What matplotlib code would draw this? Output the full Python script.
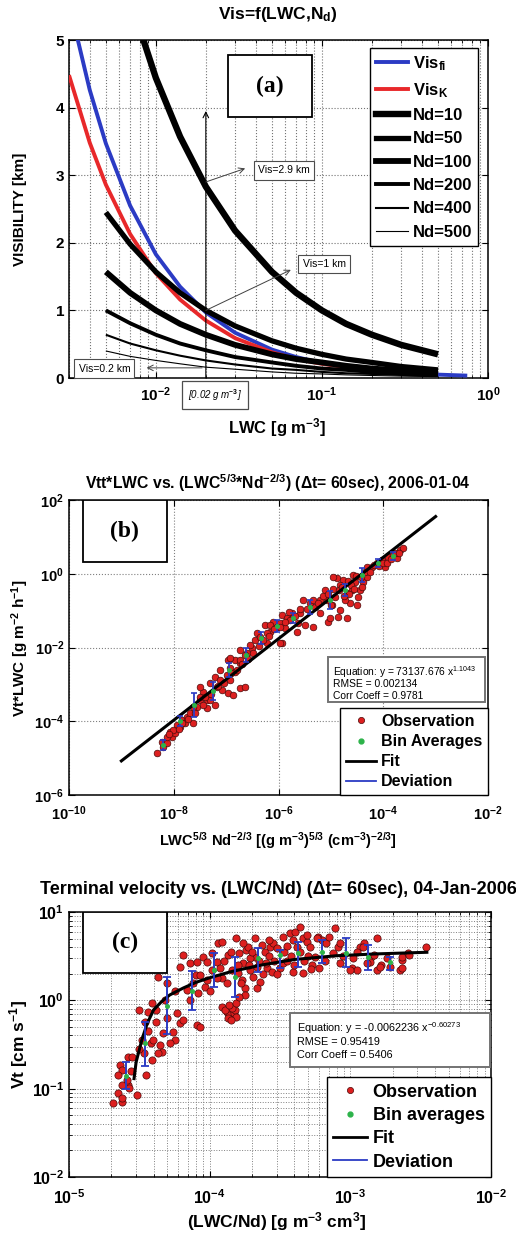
import matplotlib
matplotlib.use("Agg")
import matplotlib.pyplot as plt
import numpy as np
from matplotlib.patches import Rectangle
from matplotlib.lines import Line2D
from matplotlib.ticker import FixedLocator, FuncFormatter, NullFormatter, NullLocator, LogLocator

plt.rcParams['font.family'] = ['Liberation Sans', 'DejaVu Sans']
plt.rcParams['font.weight'] = 'bold'
plt.rcParams['mathtext.fontset'] = 'custom'
plt.rcParams['mathtext.rm'] = 'Liberation Sans:bold'
plt.rcParams['mathtext.it'] = 'Liberation Sans:bold:italic'
plt.rcParams['mathtext.bf'] = 'Liberation Sans:bold'
plt.rcParams['axes.linewidth'] = 1.1

# ---------------- (a) visibility curves ----------------
lwc_nd = [0.005, 0.007, 0.01, 0.014, 0.02, 0.03, 0.05, 0.07, 0.1, 0.14, 0.2, 0.3, 0.5]
vis_nd10 = [6.95, 5.60, 4.44, 3.57, 2.83, 2.18, 1.57, 1.26, 1.00, 0.80, 0.64, 0.49, 0.35]
vis_nd50 = [2.45, 1.98, 1.57, 1.26, 1.00, 0.77, 0.55, 0.44, 0.35, 0.28, 0.23, 0.17, 0.12]
vis_nd100 = [1.57, 1.26, 1.00, 0.80, 0.64, 0.49, 0.35, 0.28, 0.23, 0.18, 0.14, 0.11, 0.08]
vis_nd200 = [1.00, 0.81, 0.64, 0.51, 0.41, 0.31, 0.23, 0.18, 0.14, 0.12, 0.09, 0.07, 0.05]
vis_nd400 = [0.64, 0.51, 0.41, 0.33, 0.26, 0.20, 0.14, 0.12, 0.09, 0.07, 0.06, 0.045, 0.032]
vis_nd500 = [0.40, 0.32, 0.26, 0.21, 0.16, 0.13, 0.09, 0.07, 0.06, 0.046, 0.037, 0.028, 0.020]

lwc_k = [0.003, 0.004, 0.005, 0.007, 0.01, 0.014, 0.02, 0.03, 0.05, 0.07, 0.1, 0.2, 0.3, 0.5]
vis_k = [4.48, 3.48, 2.86, 2.13, 1.55, 1.16, 0.85, 0.59, 0.38, 0.28, 0.21, 0.11, 0.08, 0.05]
lwc_fi = [0.003, 0.004, 0.005, 0.007, 0.01, 0.014, 0.02, 0.03, 0.05, 0.07, 0.1, 0.2, 0.3, 0.5, 0.75]
vis_fi = [5.55, 4.26, 3.47, 2.55, 1.83, 1.35, 0.97, 0.67, 0.42, 0.31, 0.22, 0.12, 0.08, 0.05, 0.035]

nd_labels = ['Nd=10', 'Nd=50', 'Nd=100', 'Nd=200', 'Nd=400', 'Nd=500']
nd_widths = [4.6, 3.8, 4.2, 2.8, 1.5, 0.8]

# ---------------- (b) Vt*LWC vs LWC^5/3 Nd^-2/3 (log10 values) ----------------
b_obs_logx = [-8.32, -8.21, -8.23, -8.13, -8.03, -8.07, -7.98, -7.94, -7.84, -7.75,
              -7.69, -7.63, -7.79, -7.56, -7.50, -7.37, -7.21, -7.37, -7.44, -7.50,
              -7.31, -7.21, -7.12, -6.97, -6.87, -6.74, -6.64, -6.99, -6.93, -6.97,
              -6.83, -6.74, -6.60, -6.51, -6.45, -6.41, -6.36, -6.26, -6.22, -6.16,
              -6.11, -6.03, -5.94, -5.94, -5.84, -5.74, -5.65, -5.63, -5.97, -5.73,
              -5.53, -5.40, -5.34, -5.50, -5.21, -5.08, -5.06, -5.02, -4.92, -4.83,
              -4.87, -4.89, -4.77, -4.70, -4.64, -4.73, -4.58, -4.54, -4.45, -4.49,
              -4.39, -4.31, -4.31, -4.22, -4.12, -4.03, -3.97, -3.91, -3.82, -3.74,
              -3.68, -3.63, -4.96, -5.78, -5.59, -4.70, -6.74, -6.93, -7.12, -6.93,
              -7.18, -7.50, -7.63, -8.02, -8.13, -5.97, -6.74, -6.22, -5.12, -4.98,
              -4.60, -4.50, -4.83, -5.21, -5.31, -5.88, -6.16, -6.55, -6.64, -6.83,
              -7.08, -7.31, -7.88,
              -8.10, -7.90, -7.85, -7.72, -7.60, -7.45, -7.40, -7.28, -7.15, -7.05,
              -6.90, -6.80, -6.70, -6.58, -6.48, -6.38, -6.30, -6.18, -6.08, -5.98,
              -5.88, -5.80, -5.68, -5.58, -5.45, -5.35, -5.25, -5.15, -5.05, -4.95,
              -4.85, -4.78, -4.68, -4.62, -4.52, -4.42, -4.35, -4.25, -4.18, -4.08,
              -4.00, -3.92, -3.86, -3.78, -3.70, -4.65, -4.75, -4.55, -4.40, -5.00]
b_obs_logy = [-4.86, -4.69, -4.56, -4.59, -4.42, -4.29, -4.31, -4.10, -3.96, -3.88,
              -3.77, -4.04, -4.04, -3.61, -3.42, -3.64, -3.56, -3.42, -3.20, -3.07,
              -2.96, -2.80, -2.88, -3.23, -3.29, -3.10, -3.07, -2.74, -2.55, -2.34,
              -2.34, -2.42, -2.15, -2.01, -1.79, -1.60, -1.71, -1.39, -1.88, -1.58,
              -1.31, -1.44, -1.88, -1.12, -1.20, -1.06, -1.58, -1.33, -1.33, -1.17,
              -0.71, -0.79, -1.44, -1.39, -1.06, -0.71, -1.31, -1.20, -0.63, -0.98,
              -1.17, -0.11, -0.17, -0.52, -0.79, -0.71, -0.03, -0.22, -0.44, -0.63,
              -0.22, -0.09, 0.18, 0.18, 0.29, 0.37, 0.18, 0.46, 0.51, 0.43,
              0.65, 0.70, -0.09, -1.25, -1.06, -1.20, -2.07, -2.28, -2.61, -2.88,
              -3.07, -3.34, -3.61, -4.23, -4.42, -1.88, -2.34, -1.60, -0.44, -0.85,
              -0.44, -0.85, -0.30, -0.71, -0.90, -1.47, -1.39, -1.93, -2.20, -2.66,
              -3.15, -3.42, -4.15,
              -4.35, -4.20, -4.05, -3.95, -3.78, -3.55, -3.35, -3.25, -3.05, -2.95,
              -2.70, -2.60, -2.45, -2.30, -2.15, -1.95, -1.80, -1.70, -1.50, -1.45,
              -1.30, -1.05, -1.15, -0.95, -0.95, -0.70, -0.80, -0.60, -0.55, -0.40,
              -0.45, -0.35, -0.20, -0.30, -0.05, -0.10, 0.05, 0.05, 0.25, 0.20,
              0.30, 0.30, 0.40, 0.55, 0.55, -0.55, -0.60, -0.40, -0.35, -0.85]
b_bin_logx = [-8.21, -7.88, -7.62, -7.25, -6.95, -6.62, -6.34, -6.03, -5.73, -5.40,
              -5.02, -4.73, -4.41, -4.10, -3.82]
b_bin_logy = [-4.64, -3.99, -3.56, -3.18, -2.61, -2.20, -1.74, -1.42, -1.20, -0.90,
              -0.71, -0.44, -0.03, 0.29, 0.48]
b_bin_logerr = [0.14, 0.14, 0.33, 0.24, 0.19, 0.19, 0.16, 0.16, 0.14, 0.19,
                0.24, 0.16, 0.19, 0.11, 0.11]
b_fit_x = [1e-9, 1e-3]
b_fit_y = [8.4e-6, 35.6]

# ---------------- (c) Vt vs LWC/Nd (log10 values) ----------------
c_obs_logx = [-4.69, -4.65, -4.62, -4.62, -4.58, -4.57, -4.52, -4.64, -4.62, -4.65,
              -4.62, -4.59, -4.58, -4.50, -4.44, -4.46, -4.42, -4.40, -4.35, -4.34,
              -4.37, -4.45, -4.41, -4.38, -4.48, -4.47, -4.55, -4.37, -4.30, -4.23,
              -4.21, -4.19, -4.25, -4.32, -4.33, -4.28, -4.41, -4.38, -4.26, -4.21,
              -4.14, -4.10, -4.08, -4.09, -4.07, -4.14, -4.16, -4.03, -4.05, -4.02,
              -3.98, -3.95, -3.93, -3.91, -3.88, -3.94, -3.91, -3.87, -3.84, -3.98,
              -4.02, -3.91, -3.88, -3.86, -3.83, -3.82, -3.87, -3.81, -3.89, -3.84,
              -3.86, -3.81, -3.85, -3.79, -3.76, -3.74, -3.71, -3.69, -3.77, -3.75,
              -3.73, -3.68, -3.66, -3.64, -3.80, -3.76, -3.71, -3.75, -3.66, -3.63,
              -3.61, -3.57, -3.55, -3.52, -3.59, -3.56, -3.50, -3.48, -3.43, -3.39,
              -3.36, -3.41, -3.38, -3.34, -3.31, -3.29, -3.27, -3.25, -3.23, -3.20,
              -3.17, -3.12, -3.11, -3.09, -3.07, -2.99, -2.98, -2.95, -2.93, -2.90,
              -2.85, -2.83, -2.81, -2.78, -2.74, -2.65, -2.63, -2.63, -2.59, -2.46,
              -3.81, -3.31, -3.24, -2.81, -4.19, -4.09, -4.07, -3.48, -3.15, -3.07,
              -2.91, -2.58, -2.63, -3.00, -2.79, -2.72, -2.86, -3.41, -3.34, -3.22,
              -3.79,
              -3.95, -3.90, -3.85, -3.80, -3.78, -3.72, -3.70, -3.65, -3.62, -3.60,
              -3.58, -3.54, -3.52, -3.47, -3.45, -3.42, -3.40, -3.36, -3.33, -3.30,
              -3.28, -3.45, -3.58, -4.00, -4.12, -4.25, -4.30, -4.44, -4.50, -4.56,
              -3.68, -3.18, -3.05, -2.95, -2.88]
c_obs_logy = [-1.16, -1.05, -1.15, -1.11, -0.96, -0.99, -1.07, -0.73, -0.79, -0.85,
              -0.96, -0.90, -0.64, -0.11, -0.13, -0.25, -0.48, -0.45, -0.51, -0.59,
              -0.60, -0.85, -0.68, -0.25, -0.45, -0.60, -0.64, 0.26, 0.20, -0.14,
              -0.26, -0.22, -0.45, 0.00, -0.37, -0.48, -0.03, -0.11, -0.36, 0.38,
              0.42, 0.29, 0.08, -0.28, -0.30, 0.00, 0.12, 0.15, 0.49, 0.43,
              0.54, 0.43, 0.37, 0.25, 0.20, 0.65, 0.66, 0.51, 0.34, 0.34,
              0.23, -0.08, -0.13, -0.17, -0.14, -0.11, -0.20, -0.19, -0.11, -0.09,
              -0.05, -0.03, -0.22, 0.54, 0.42, 0.57, 0.34, 0.26, 0.23, 0.14,
              0.60, 0.49, 0.38, 0.21, 0.31, 0.65, 0.48, 0.06, 0.14, 0.63,
              0.55, 0.60, 0.65, 0.59, 0.37, 0.32, 0.37, 0.42, 0.76, 0.77,
              0.83, 0.68, 0.60, 0.71, 0.66, 0.60, 0.40, 0.49, 0.72, 0.68,
              0.65, 0.54, 0.82, 0.60, 0.42, 0.37, 0.48, 0.34, 0.60, 0.65,
              0.49, 0.51, 0.34, 0.40, 0.48, 0.34, 0.46, 0.49, 0.54, 0.60,
              0.71, 0.74, 0.71, 0.71, 0.51, 0.43, 0.29, 0.72, 0.72, 0.65,
              0.60, 0.51, 0.37, 0.34, 0.38, 0.38, 0.43, 0.32, 0.31, 0.37,
              0.04,
              0.25, 0.45, 0.55, 0.40, 0.20, 0.40, 0.55, 0.45, 0.30, 0.42,
              0.50, 0.45, 0.30, 0.55, 0.45, 0.50, 0.40, 0.55, 0.45, 0.50,
              0.35, 0.62, 0.68, 0.10, 0.20, 0.10, -0.20, -0.35, -0.55, -0.80,
              0.70, 0.45, 0.50, 0.55, 0.42]
c_bin_logx = [-4.595, -4.460, -4.303, -4.126, -3.969, -3.820, -3.657, -3.500, -3.372,
              -3.202, -3.031, -2.875, -2.719]
c_bin_y = [0.14, 0.33, 0.86, 1.27, 2.20, 1.84, 3.01, 3.26, 3.43, 3.52, 3.43, 3.09, 2.72]
c_bin_lo = [0.10, 0.18, 0.42, 0.78, 1.41, 1.09, 2.09, 2.32, 2.38, 2.63, 2.38, 2.20, 2.20]
c_bin_hi = [0.20, 0.57, 1.84, 2.15, 3.43, 3.09, 3.91, 3.71, 4.57, 4.82, 5.08, 4.23, 3.09]
c_fit_x = [2.9e-5, 3.0e-5, 3.3e-5, 3.6e-5, 4.0e-5, 4.5e-5, 5.2e-5, 6.5e-5, 8.0e-5,
           1.0e-4, 1.4e-4, 2.3e-4, 4.0e-4, 8.0e-4, 1.5e-3, 3.5e-3]
c_fit_y = [0.13, 0.20, 0.36, 0.55, 0.78, 0.95, 1.15, 1.38, 1.60, 1.80, 2.10, 2.50,
           2.90, 3.20, 3.35, 3.50]

W, H = 516, 1237
RED = '#dd1f1f'
BLUE = '#2b3bc4'
GREEN = '#2db34a'


def fpos(x, y):
    return x / W, 1 - y / H


def box_axes(x0, y0, x1, y1):
    # pixel box -> figure fraction rect
    return [x0 / W, 1 - y1 / H, (x1 - x0) / W, (y1 - y0) / H]


def pow_fmt(v, _):
    return r'$10^{%d}$' % int(round(np.log10(v)))


fig = plt.figure(figsize=(W / 100, H / 100), dpi=100)

# ======================= panel (a) =======================
ax = fig.add_axes(box_axes(69, 40, 488, 378))
ax.set_xscale('log')
ax.plot(lwc_fi, vis_fi, color=BLUE, lw=2.8, solid_capstyle='butt', zorder=3)
ax.plot(lwc_k, vis_k, color='#e8282a', lw=2.8, solid_capstyle='butt', zorder=3)
for vals, lw in zip([vis_nd10, vis_nd50, vis_nd100, vis_nd200, vis_nd400, vis_nd500], nd_widths):
    ax.plot(lwc_nd, vals, color='k', lw=lw, solid_capstyle='butt', zorder=4)
ax.set_xlim(0.003, 1)
ax.set_ylim(0, 5)
ax.set_yticks([0, 1, 2, 3, 4, 5])
ax.xaxis.set_major_locator(FixedLocator([0.01, 0.1, 1]))
ax.xaxis.set_major_formatter(FuncFormatter(pow_fmt))
ax.xaxis.set_minor_locator(LogLocator(base=10, subs=np.arange(2, 10)))
ax.xaxis.set_minor_formatter(NullFormatter())
ax.grid(True, which='major', ls=':', color='0.45', lw=0.8)
ax.grid(True, which='minor', axis='x', ls=':', color='0.45', lw=0.8)
ax.tick_params(which='both', direction='in', top=True, right=True, labelsize=11)
ax.tick_params(which='major', length=4)
ax.tick_params(which='minor', length=2)
ax.tick_params(axis='x', pad=5)

handles = [Line2D([], [], color=BLUE, lw=2.8), Line2D([], [], color='#e8282a', lw=2.8)]
handles += [Line2D([], [], color='k', lw=lw) for lw in nd_widths]
labels = [r'Vis$_{\mathrm{fi}}$', r'Vis$_{\mathrm{K}}$'] + nd_labels
leg = ax.legend(handles, labels, loc='upper right', bbox_to_anchor=(0.976, 0.976),
                borderaxespad=0, fontsize=12, frameon=True, fancybox=False,
                edgecolor='k', framealpha=1, handlelength=1.9, handletextpad=0.3,
                labelspacing=0.5, borderpad=0.35)
leg.get_frame().set_linewidth(1.0)
leg.set_zorder(10)

ax.add_patch(Rectangle((0.3795, 0.772), 0.2005, 0.1834, transform=ax.transAxes,
                       fc='white', ec='k', lw=1.3, zorder=8))
ax.text(0.3795 + 0.1, 0.772 + 0.0917, '(a)', transform=ax.transAxes, ha='center',
        va='center', family=['Liberation Serif', 'DejaVu Serif'], fontsize=17,
        fontweight='bold', zorder=9)

arr = dict(arrowstyle='->', color='0.25', lw=0.7, shrinkA=0, shrinkB=0)
note_box = dict(boxstyle='square,pad=0.4', fc='white', ec='0.3', lw=0.8)
ax.annotate('', xy=(0.02, 3.95), xytext=(0.02, 0.0),
            arrowprops=dict(arrowstyle='->', color='k', lw=0.8, shrinkA=0, shrinkB=0), zorder=6)
ax.annotate('', xy=(0.0345, 3.1), xytext=(0.02, 2.9), arrowprops=arr, zorder=6)
ax.text(0.059, 3.07, 'Vis=2.9 km', fontsize=7.5, fontweight='normal', ha='center',
        va='center', bbox=note_box, zorder=7)
ax.annotate('', xy=(0.065, 1.6), xytext=(0.02, 1.0), arrowprops=arr, zorder=6)
ax.text(0.103, 1.69, 'Vis=1 km', fontsize=7.5, fontweight='normal', ha='center',
        va='center', bbox=note_box, zorder=7)
ax.annotate('', xy=(0.0088, 0.15), xytext=(0.019, 0.15), arrowprops=arr, zorder=6)
ax.text(0.0049, 0.14, 'Vis=0.2 km', fontsize=7.5, fontweight='normal', ha='center',
        va='center', bbox=note_box, zorder=7)
ax.text(0.0228, -0.05, '[0.02 g m$^{-3}$]', transform=ax.get_xaxis_transform(),
        fontsize=7, fontweight='normal', fontstyle='italic', ha='center', va='center',
        bbox=dict(boxstyle='square,pad=0.6', fc='white', ec='0.3', lw=0.9), clip_on=False)

fig.text(*fpos(278, 15), r'Vis=f(LWC,N$_{\mathrm{d}}$)', ha='center', va='center', fontsize=12.5)
fig.text(*fpos(20, 209), 'VISIBILITY [km]', rotation=90, ha='center', va='center', fontsize=11)
fig.text(*fpos(277, 428), r'LWC [g m$^{-3}$]', ha='center', va='center', fontsize=12)

# ======================= panel (b) =======================
bx = fig.add_axes(box_axes(69, 500, 488, 795))
bx.set_xscale('log')
bx.set_yscale('log')
bx.plot(10 ** np.array(b_obs_logx), 10 ** np.array(b_obs_logy), 'o', ms=4.8,
        mfc=RED, mec='#4a0a0a', mew=0.5, zorder=3)
bx.plot(b_fit_x, b_fit_y, color='k', lw=2.2, zorder=4)
by = 10 ** np.array(b_bin_logy)
blo = 10 ** (np.array(b_bin_logy) - np.array(b_bin_logerr))
bhi = 10 ** (np.array(b_bin_logy) + np.array(b_bin_logerr))
bxv = 10 ** np.array(b_bin_logx)
bx.errorbar(bxv, by, yerr=[by - blo, bhi - by], fmt='none', ecolor=BLUE, elinewidth=1.3,
            capsize=2.5, capthick=1.2, zorder=5)
bx.plot(bxv, by, 'o', ms=2.6, mfc=GREEN, mec=GREEN, zorder=6)
bx.set_xlim(1e-10, 1e-2)
bx.set_ylim(1e-6, 1e2)
bx.xaxis.set_major_locator(FixedLocator([1e-10, 1e-8, 1e-6, 1e-4, 1e-2]))
bx.yaxis.set_major_locator(FixedLocator([1e-6, 1e-4, 1e-2, 1e0, 1e2]))
bx.xaxis.set_minor_locator(NullLocator())
bx.yaxis.set_minor_locator(NullLocator())
bx.xaxis.set_major_formatter(FuncFormatter(pow_fmt))
bx.yaxis.set_major_formatter(FuncFormatter(pow_fmt))
bx.grid(True, which='major', ls=':', color='0.5', lw=0.8)
bx.tick_params(which='both', direction='in', top=True, right=True, labelsize=10.5, length=4)
bx.tick_params(axis='x', pad=7)

bx.add_patch(Rectangle((0.0334, 0.790), 0.2005, 0.210, transform=bx.transAxes,
                       fc='white', ec='k', lw=1.3, zorder=8))
bx.text(0.0334 + 0.1, 0.790 + 0.105, '(b)', transform=bx.transAxes, ha='center',
        va='center', family=['Liberation Serif', 'DejaVu Serif'], fontsize=17,
        fontweight='bold', zorder=9)

bx.add_patch(Rectangle((0.618, 0.315), 0.375, 0.153, transform=bx.transAxes,
                       fc='white', ec='0.45', lw=1.4, zorder=8))
for i, s in enumerate([r'Equation: y = 73137.676 x$^{\mathregular{1.1043}}$',
                       'RMSE = 0.002134', 'Corr Coeff = 0.9781']):
    bx.text(0.630, 0.415 - i * 0.04, s, transform=bx.transAxes, fontsize=7.4,
            fontweight='normal', ha='left', va='center', zorder=9)

leg_handles = [Line2D([], [], ls='none', marker='o', ms=4.5, mfc=RED, mec='#4a0a0a', mew=0.5),
               Line2D([], [], ls='none', marker='o', ms=3.5, mfc=GREEN, mec=GREEN),
               Line2D([], [], color='k', lw=2.0),
               Line2D([], [], color=BLUE, lw=1.3)]
lb = bx.legend(leg_handles, ['Observation', 'Bin Averages', 'Fit', 'Deviation'],
               loc='lower right', bbox_to_anchor=(1, 0), borderaxespad=0, fontsize=11.5,
               fancybox=False, edgecolor='k', framealpha=1, handlelength=1.9,
               handletextpad=0.3, labelspacing=0.32, borderpad=0.35)
lb.get_frame().set_linewidth(1.0)
lb.set_zorder(10)

fig.text(*fpos(278, 483), 'Vtt*LWC vs. (LWC$^{5/3}$*Nd$^{-2/3}$) (\u0394t= 60sec), 2006-01-04',
         ha='center', va='center', fontsize=11.3)
fig.text(*fpos(20, 648), r'Vt*LWC [g m$^{-2}$ h$^{-1}$]', rotation=90, ha='center',
         va='center', fontsize=11)
fig.text(*fpos(278, 841), r'LWC$^{5/3}$ Nd$^{-2/3}$ [(g m$^{-3}$)$^{5/3}$ (cm$^{-3}$)$^{-2/3}$]',
         ha='center', va='center', fontsize=10.5)

# ======================= panel (c) =======================
cx = fig.add_axes(box_axes(69, 912, 491, 1177))
cx.set_xscale('log')
cx.set_yscale('log')
cx.plot(10 ** np.array(c_obs_logx), 10 ** np.array(c_obs_logy), 'o', ms=5.2,
        mfc=RED, mec='#4a0a0a', mew=0.5, zorder=3)
cx.plot(c_fit_x, c_fit_y, color='k', lw=2.2, zorder=4)
cxv = 10 ** np.array(c_bin_logx)
cy = np.array(c_bin_y)
cx.errorbar(cxv, cy, yerr=[cy - np.array(c_bin_lo), np.array(c_bin_hi) - cy], fmt='none',
            ecolor=BLUE, elinewidth=1.4, capsize=2.8, capthick=1.3, zorder=5)
cx.plot(cxv, cy, 'o', ms=2.6, mfc=GREEN, mec=GREEN, zorder=6)
cx.set_xlim(1e-5, 1e-2)
cx.set_ylim(1e-2, 1e1)
cx.xaxis.set_major_locator(FixedLocator([1e-5, 1e-4, 1e-3, 1e-2]))
cx.yaxis.set_major_locator(FixedLocator([1e-2, 1e-1, 1e0, 1e1]))
cx.xaxis.set_minor_locator(LogLocator(base=10, subs=np.arange(2, 10)))
cx.yaxis.set_minor_locator(LogLocator(base=10, subs=np.arange(2, 10)))
cx.xaxis.set_minor_formatter(NullFormatter())
cx.yaxis.set_minor_formatter(NullFormatter())
cx.xaxis.set_major_formatter(FuncFormatter(pow_fmt))
cx.yaxis.set_major_formatter(FuncFormatter(pow_fmt))
cx.grid(True, which='both', ls=':', color='0.5', lw=0.7)
cx.tick_params(which='both', direction='in', top=True, right=True, labelsize=11.5)
cx.tick_params(which='major', length=4)
cx.tick_params(which='minor', length=2)
cx.tick_params(axis='x', pad=8)

cx.add_patch(Rectangle((0.0332, 0.770), 0.199, 0.230, transform=cx.transAxes,
                       fc='white', ec='k', lw=1.3, zorder=8))
cx.text(0.0332 + 0.0995, 0.770 + 0.115, '(c)', transform=cx.transAxes, ha='center',
        va='center', family=['Liberation Serif', 'DejaVu Serif'], fontsize=17,
        fontweight='bold', zorder=9)

cx.add_patch(Rectangle((0.524, 0.415), 0.474, 0.204, transform=cx.transAxes,
                       fc='white', ec='0.45', lw=1.4, zorder=8))
for i, s in enumerate([r'Equation: y = -0.0062236 x$^{\mathregular{-0.60273}}$',
                       'RMSE = 0.95419', 'Corr Coeff = 0.5406']):
    cx.text(0.540, 0.560 - i * 0.05, s, transform=cx.transAxes, fontsize=7.8,
            fontweight='normal', ha='left', va='center', zorder=9)

lc = cx.legend(leg_handles, ['Observation', 'Bin averages', 'Fit', 'Deviation'],
               loc='lower right', bbox_to_anchor=(1, 0), borderaxespad=0, fontsize=13,
               fancybox=False, edgecolor='k', framealpha=1, handlelength=1.9,
               handletextpad=0.3, labelspacing=0.35, borderpad=0.35)
lc.get_frame().set_linewidth(1.0)
lc.set_zorder(10)

fig.text(*fpos(40, 890), 'Terminal velocity vs. (LWC/Nd) (\u0394t= 60sec), 04-Jan-2006',
         ha='left', va='center', fontsize=13)
fig.text(*fpos(19, 1045), r'Vt [cm s$^{-1}$]', rotation=90, ha='center', va='center',
         fontsize=12.5)
fig.text(*fpos(277, 1222), r'(LWC/Nd) [g m$^{-3}$ cm$^{3}$]', ha='center', va='center',
         fontsize=12.5)

fig.savefig('out.png', dpi=100)
